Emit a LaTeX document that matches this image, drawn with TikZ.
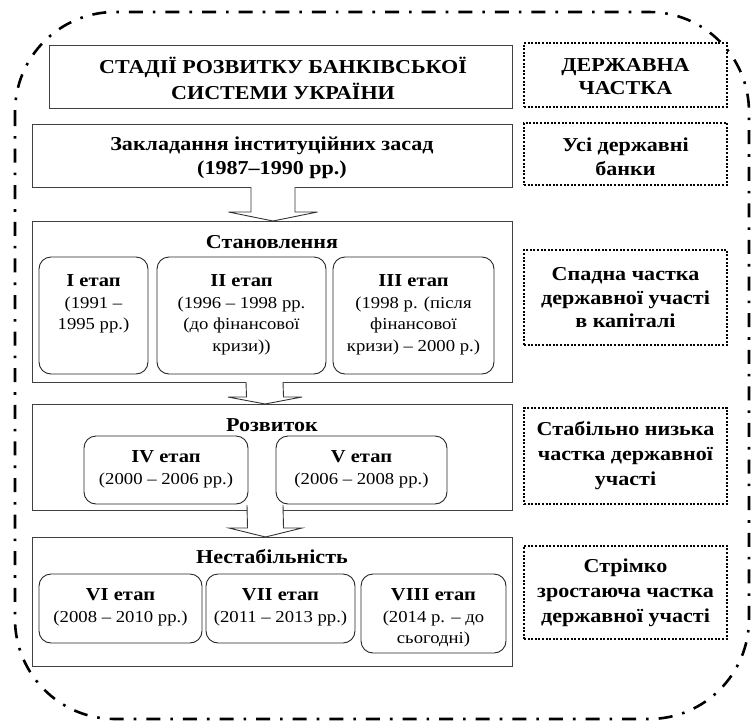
\documentclass[tikz,border=0pt]{standalone}
\usepackage{fontspec}
\setmainfont{Liberation Serif}[FakeStretch=1.12]
\usetikzlibrary{calc}
\tikzset{
  frame/.style={draw=black!75, line width=1pt, rectangle, inner sep=0pt},
  stagebox/.style={draw=black!85, line width=0.9pt, rectangle, rounded corners=12pt, inner sep=0pt},
  sharebox/.style={draw=black, line width=2.6pt, dash pattern=on 2pt off 1.6pt, rectangle, inner sep=0pt},
  outerline/.style={draw=black, line width=2.6pt, dash pattern=on 14pt off 10pt on 2.6pt off 10pt, rounded corners=100pt},
  bt/.style={font=\fontsize{19.7}{24}\selectfont\bfseries, align=center, inner sep=0pt},
  rt/.style={font=\fontsize{16.7}{21.5}\selectfont, align=center, inner sep=0pt},
  barrow/.style={draw=black!80, fill=white, line width=0.9pt, line join=miter}
}
\newcommand\stg[1]{{\fontsize{18.3}{21.5}\selectfont\bfseries #1}}
\newcommand\blkarrow[5]{%
  \draw[barrow] ($(#1)+(-#3,0)$) -- ($(#2)+(-#3,-#5)$) -- ($(#2)+(-#4,-#5)$) -- (#2)
    -- ($(#2)+(#4,-#5)$) -- ($(#2)+(#3,-#5)$) -- ($(#1)+(#3,0)$);}
\begin{document}
\begin{tikzpicture}[x=1pt,y=-1pt]
\useasboundingbox (0,0) rectangle (752,720);
% outer frame
\draw[outerline] (15,12) rectangle (749,719);

% main boxes
\node[frame, minimum width=463, minimum height=63] (bTitle) at (280.5,76.5) {};
\node[frame, minimum width=480, minimum height=63] (bZakl) at (272,155.5) {};
\node[frame, minimum width=480, minimum height=161] (bStan) at (272,301.5) {};
\node[frame, minimum width=480, minimum height=106] (bRozv) at (272,457) {};
\node[frame, minimum width=480, minimum height=129] (bNest) at (272,601.5) {};

\node[bt, font=\fontsize{19.7}{26}\selectfont\bfseries] (tTitle) at (283,78.5) {СТАДІЇ РОЗВИТКУ БАНКІВСЬКОЇ\\СИСТЕМИ УКРАЇНИ};
\node[bt] (tZakl) at (272,157.5) {Закладання інституційних засад\\(1987–1990 рр.)};
\node[bt] (tStan) at (272,242) {Становлення};
\node[bt] (tRozv) at (272,425) {Розвиток};
\node[bt] (tNest) at (272,557) {Нестабільність};

% stage boxes
\node[stagebox, minimum width=109, minimum height=117] (s1) at (93.5,315.5) {};
\node[stagebox, minimum width=169, minimum height=117] (s2) at (241.5,315.5) {};
\node[stagebox, minimum width=161, minimum height=117] (s3) at (413.5,315.5) {};
\node[stagebox, minimum width=164, minimum height=68] (s4) at (166,470) {};
\node[stagebox, minimum width=171, minimum height=68] (s5) at (361.5,470) {};
\node[stagebox, minimum width=163, minimum height=69] (s6) at (120.5,608.5) {};
\node[stagebox, minimum width=149, minimum height=69] (s7) at (280.5,608.5) {};
\node[stagebox, minimum width=145, minimum height=79] (s8) at (433.5,613.5) {};

\node[rt] (t1) at (93.5,304) {\stg{I етап}\\(1991 –\\1995 рр.)};
\node[rt] (t2) at (241.5,315) {\stg{II етап}\\(1996 – 1998 рр.\\(до фінансової\\кризи))};
\node[rt] (t3) at (413.5,315) {\stg{III етап}\\(1998 р. (після\\фінансової\\кризи) – 2000 р.)};
\node[rt] (t4) at (166,469.5) {\stg{IV етап}\\(2000 – 2006 рр.)};
\node[rt] (t5) at (361.5,469.5) {\stg{V етап}\\(2006 – 2008 рр.)};
\node[rt] (t6) at (120.5,607.5) {\stg{VI етап}\\(2008 – 2010 рр.)};
\node[rt] (t7) at (280.5,607.5) {\stg{VII етап}\\(2011 – 2013 рр.)};
\node[rt] (t8) at (433.5,618) {\stg{VIII етап}\\(2014 р. – до\\сьогодні)};

% state share boxes
\node[sharebox, minimum width=203, minimum height=64] (d1) at (625.5,75) {};
\node[sharebox, minimum width=203, minimum height=62] (d2) at (625.5,154) {};
\node[sharebox, minimum width=203, minimum height=95] (d3) at (625.5,297.5) {};
\node[sharebox, minimum width=203, minimum height=96] (d4) at (625.5,456) {};
\node[sharebox, minimum width=203, minimum height=93] (d5) at (625.5,592.5) {};

\node[bt, font=\fontsize{19.7}{23}\selectfont\bfseries] (u1) at (625.5,77) {ДЕРЖАВНА\\ЧАСТКА};
\node[bt] (u2) at (625.5,157) {Усі державні\\банки};
\node[bt, font=\fontsize{19.7}{23.5}\selectfont\bfseries] (u3) at (625.5,298) {Спадна частка\\державної участі\\в капіталі};
\node[bt, font=\fontsize{19.7}{25}\selectfont\bfseries] (u4) at (625.5,456) {Стабільно низька\\частка державної\\участі};
\node[bt, font=\fontsize{19.7}{25}\selectfont\bfseries] (u5) at (625.5,593) {Стрімко\\зростаюча частка\\державної участі};

% block arrows
\coordinate (a1s) at (273,187);
\coordinate (a1e) at (273,221);
\coordinate (a2s) at (264.5,382);
\coordinate (a2e) at (265,404);
\coordinate (a3s) at (265,505);
\coordinate (a3e) at (265.5,537);
\blkarrow{a1s}{a1e}{22}{44.5}{9}
\blkarrow{a2s}{a2e}{18.5}{37}{7}
\blkarrow{a3s}{a3e}{18}{36.5}{9}
\end{tikzpicture}
\end{document}
